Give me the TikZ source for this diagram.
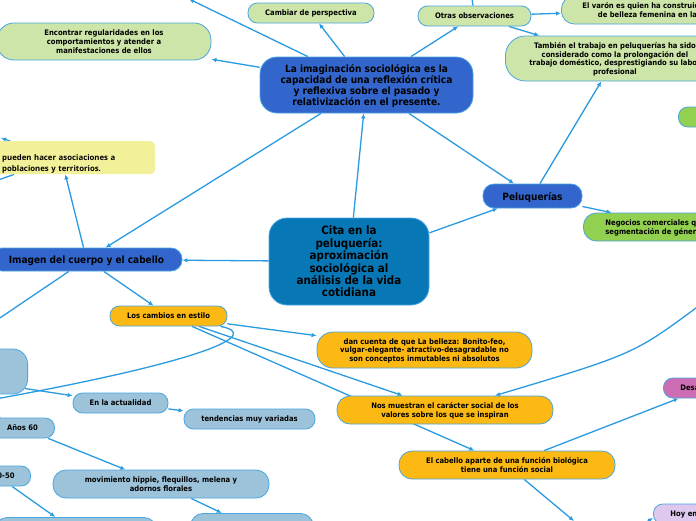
\documentclass[tikz,border=0pt]{standalone}
\usepackage{fontspec}
\setmainfont{DejaVu Sans}[FakeStretch=0.9]
\newfontfamily\notefont{Open Sans}
\usetikzlibrary{arrows.meta}

\definecolor{linkblue}{HTML}{2A9BE0}
\definecolor{edgeblue}{HTML}{4AA5E0}
\definecolor{leafgreen}{HTML}{CDE5A8}
\definecolor{brightgreen}{HTML}{92D050}
\definecolor{mainblue}{HTML}{3366CC}
\definecolor{rootblue}{HTML}{0877B5}
\definecolor{amber}{HTML}{FDB913}
\definecolor{paleblue}{HTML}{9DC3DA}
\definecolor{orchid}{HTML}{CD6EB4}
\definecolor{lilac}{HTML}{DEC8EE}
\definecolor{notecolor}{HTML}{F3F09A}

\pgfdeclarelayer{paper}
\pgfdeclarelayer{edges}
\pgfsetlayers{paper,edges,main}

\begin{document}
\begin{tikzpicture}[
            x = 1pt, y = -1pt,
            every node/.style={text depth=0pt, inner sep=0pt, align=center, text=black},
            line/.style={line width = 1.3pt, draw=linkblue, -{Latex[length=5pt, width=4.5pt]}},
            box/.style={draw=edgeblue, line width=.8pt},
            leaf/.style={box, rounded corners=9.5pt, minimum height=20pt, font=\bfseries\fontsize{7.6}{8.6}\selectfont},
            twoline/.style={box, rounded corners=13pt, minimum height=28pt, font=\bfseries\fontsize{7.6}{8.6}\selectfont},
            headbox/.style={box, font=\bfseries\fontsize{10}{10.8}\selectfont},
            note/.style={fill=notecolor, rounded corners=5pt, align=left, text width=118pt, inner xsep=35pt, minimum height=33pt, font=\notefont\bfseries\fontsize{7.8}{10.4}\selectfont},
            ]

        \useasboundingbox (0, 0) rectangle (696, 520);
        \begin{pgfonlayer}{paper}
        \fill[white] (0, 0) rectangle (696, 520);
        \end{pgfonlayer}

        % centre and first level
        \node[headbox, fill=rootblue, minimum width=160pt, minimum height=87pt, rounded corners=18pt, font=\bfseries\fontsize{11.5}{12.4}\selectfont] (cita) at (349, 261.5) {Cita en la\\peluquería:\\aproximación\\sociológica al\\análisis de la vida\\cotidiana};
        \node[headbox, fill=mainblue, minimum width=213pt, minimum height=56pt, rounded corners=17pt] (imag) at (366.5, 85) {La imaginación sociológica es la\\capacidad de una reflexión crítica\\y reflexiva sobre el pasado y\\relativización en el presente.};
        \node[headbox, fill=mainblue, minimum width=99pt, minimum height=24pt, rounded corners=11pt] (pelu) at (532.5, 196) {Peluquerías};
        \node[headbox, fill=mainblue, minimum width=191pt, minimum height=23pt, rounded corners=11pt] (imagen) at (86.5, 259.5) {Imagen del cuerpo y el cabello};

        % top
        \node[leaf, fill=leafgreen, minimum width=126pt] (cambiar) at (311, 13) {Cambiar de perspectiva};
        \node[leaf, fill=leafgreen, minimum width=113pt] (otras) at (474.5, 16) {Otras observaciones};
        \node[twoline, fill=leafgreen, anchor=west, inner xsep=21pt] (varon) at (561, 10) {El varón es quien ha construido el modelo\\de belleza femenina en la historia};
        \node[box, fill=leafgreen, anchor=west, inner xsep=24pt, minimum height=45pt, rounded corners=20pt, font=\bfseries\fontsize{7.6}{8.4}\selectfont] (tambien) at (505, 58.5) {También el trabajo en peluquerías ha sido\\considerado como la prolongación del\\trabajo doméstico, desprestigiando su labor\\profesional};
        \node[twoline, fill=leafgreen, minimum width=214pt, minimum height=37pt, rounded corners=17pt, font=\bfseries\fontsize{7.6}{8.7}\selectfont] (encontrar) at (104, 41.5) {Encontrar regularidades en los\\comportamientos y atender a\\manifestaciones de ellos};
        \node[leaf, fill=brightgreen, anchor=west, minimum width=60pt] (verde) at (678, 117) {};
        \node[twoline, fill=brightgreen, anchor=west, inner xsep=22pt, align=left] (negocios) at (583, 227) {Negocios comerciales que refuerzan la\\segmentación de género};
        \node[note, anchor=north west] (nota) at (-33, 141) {pueden hacer asociaciones a\\poblaciones y territorios.};

        % amber branch
        \node[leaf, fill=amber, minimum width=117pt] (cambios) at (168.5, 316) {Los cambios en estilo};
        \node[twoline, fill=amber, minimum width=215pt, minimum height=36pt, rounded corners=16pt, font=\bfseries\fontsize{7.6}{8.5}\selectfont] (dan) at (424.5, 350) {dan cuenta de que La belleza: Bonito-feo,\\vulgar-elegante- atractivo-desagradable no\\son conceptos inmutables ni absolutos};
        \node[twoline, fill=amber, minimum width=216pt] (nos) at (445, 410) {Nos muestran el carácter social de los\\valores sobre los que se inspiran};
        \node[twoline, fill=amber, minimum width=216pt] (cabello) at (507, 465) {El cabello aparte de una función biológica\\tiene una función social};
        \node[leaf, fill=orchid, anchor=west, inner xsep=17pt, text width=50pt, align=left] (desa) at (663, 388) {Desa};
        \node[leaf, fill=lilac, anchor=west, inner xsep=17pt, text width=50pt, align=left] (hoy) at (653, 514) {Hoy en};

        % pale blue branch
        \node[box, fill=paleblue, anchor=east, minimum width=60pt, minimum height=45pt, rounded corners=15pt] (lbleft) at (28, 371.5) {};
        \node[leaf, fill=paleblue, minimum width=95pt] (actual) at (120.5, 403) {En la actualidad};
        \node[leaf, fill=paleblue, minimum width=131pt] (tend) at (249.5, 419) {tendencias muy variadas};
        \node[leaf, fill=paleblue, minimum width=64pt] (a60) at (22.5, 428) {Años 60};
        \node[leaf, fill=paleblue, anchor=east, inner xsep=16pt] (a4050) at (31, 476) {Años 40-50};
        \node[twoline, fill=paleblue, minimum width=216pt] (hippie) at (161, 484) {movimiento hippie, flequillos, melena y\\adornos florales};
        \node[twoline, fill=paleblue, anchor=north east, minimum width=162pt] (abajo1) at (157, 517) {};
        \node[twoline, fill=paleblue, anchor=north west, minimum width=123pt] (abajo2) at (190, 513) {};

        % ends that leave the picture
        \coordinate (offTL) at (189, -1);
        \coordinate (offT) at (471, -8);
        \coordinate (offL) at (-15, 328);
        \coordinate (offNT) at (1, 138);
        \coordinate (offNL) at (-30, 190);
        \coordinate (offC) at (-10, 400);
        \coordinate (offA) at (-18.5, 408);
        \coordinate (offR) at (700, 305);
        \coordinate (offB) at (574, 521);
        \coordinate (offH) at (630, 532);

        \begin{pgfonlayer}{edges}
        \draw[line] (cita) -- (imag);
        \draw[line] (cita) -- (pelu);
        \draw[line] (cita) -- (imagen);
        \draw[line] (imag) -- (offTL);
        \draw[line] (imag) -- (cambiar);
        \draw[line] (imag) -- (otras);
        \draw[line] (imag) -- (encontrar);
        \draw[line] (imag) -- (imagen);
        \draw[line] (imag) -- (pelu);
        \draw[line] (otras) -- (offT);
        \draw[line] (otras) -- (varon);
        \draw[line] (otras) -- (tambien);
        \draw[line] (pelu) -- (tambien);
        \draw[line] (pelu) -- (negocios);
        \draw[line] (imagen) -- (nota);
        \draw[line] (imagen) -- (offL);
        \draw[line] (imagen) -- (cambios);
        \draw[line] (nota) -- (offNT);
        \draw[line] (nota) -- (offNL);
        \draw[line] (cambios) -- (dan);
        \draw[line] (cambios) -- (nos);
        \draw[line] (cambios) -- (cabello);
        \draw[line] ([xshift=-7pt]cambios.south east) .. controls (262, 334) and (210, 360) .. (offC);
        \draw[line] ([xshift=-3pt, yshift=-17pt]lbleft.east) -- (actual);
        \draw[line] (actual) -- (tend);
        \draw[line] (offA) -- (a60);
        \draw[line] (a60) -- (hippie);
        \draw[line] ([xshift=-19pt]a4050.south east) -- (abajo1);
        \draw[line] (hippie) -- (abajo2);
        \draw[line] (offR) .. controls (634, 354) .. ([xshift=50pt]nos.north);
        \draw[line] (cabello) -- (desa);
        \draw[line] (cabello) -- (offB);
        \draw[line] (offH) -- ([yshift=-4pt]hoy.west);
        \end{pgfonlayer}
\end{tikzpicture}
\end{document}
